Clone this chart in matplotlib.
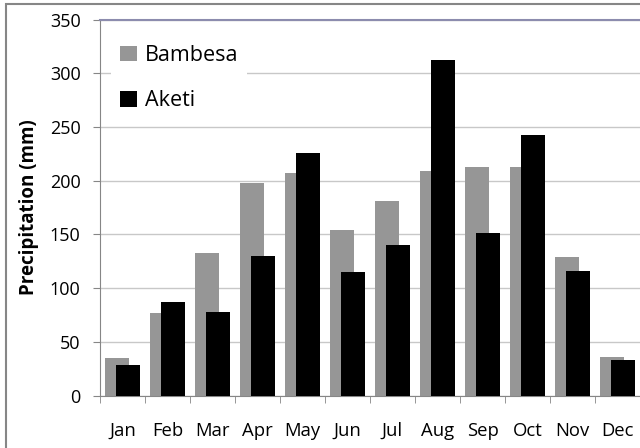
import numpy as np
import matplotlib
matplotlib.use("Agg")
import matplotlib.pyplot as plt
from matplotlib.patches import Rectangle

months = ['Jan', 'Feb', 'Mar', 'Apr', 'May', 'Jun', 'Jul', 'Aug', 'Sep', 'Oct', 'Nov', 'Dec']
bambesa = [35, 77, 133, 198, 207, 154, 181, 209, 213, 213, 129, 36]
aketi = [29, 87, 78, 130, 226, 115, 140, 312, 151, 243, 116, 33]

plt.rcParams['font.family'] = ['Open Sans', 'DejaVu Sans']

fig = plt.figure(figsize=(6.4, 4.48), dpi=100)
ax = fig.add_axes([100 / 640, 52.3 / 448, 540 / 640, 376.2 / 448])

x = np.arange(len(months))
w = 0.533
off = 0.122
ax.bar(x - off, bambesa, w, color='#969696', label='Bambesa', zorder=2)
ax.bar(x + off, aketi, w, color='#000000', label='Aketi', zorder=3)

ax.set_xlim(-0.5, 11.5)
ax.set_ylim(0, 350)
ax.set_yticks(np.arange(0, 351, 50))
ax.yaxis.grid(True, color='#c8c8c8', linewidth=1.0)
ax.set_axisbelow(True)

ax.set_xticks(x)
ax.set_xticklabels(months)
ax.set_xticks(np.arange(-0.5, 12, 1), minor=True)
ax.tick_params(axis='x', which='major', length=0, pad=19, labelsize=13.3)
ax.tick_params(axis='x', which='minor', length=5, color='#868686')
ax.tick_params(axis='y', length=5, color='#868686', pad=9, labelsize=13)

for s in ['left', 'bottom']:
    ax.spines[s].set_color('#868686')
ax.spines['top'].set_color('#8c8cae')
ax.spines['top'].set_linewidth(1.5)
ax.spines['right'].set_visible(False)

ax.set_ylabel('Precipitation (mm)', fontsize=13.5, fontweight='bold')
ax.yaxis.set_label_coords(-0.113, 0.5)

leg = ax.legend(loc='upper left', bbox_to_anchor=(0.021, 0.955), fontsize=15.5,
                frameon=True, fancybox=False, edgecolor='none', framealpha=1,
                handlelength=0.8, handleheight=0.75, handletextpad=0.35,
                labelspacing=1.13, borderaxespad=0.0)

fig.patches.append(Rectangle((6 / 640, -0.05), 1.1, (448 - 4) / 448 + 0.05,
                             transform=fig.transFigure, fill=False,
                             edgecolor='#868686', linewidth=1.5))

fig.savefig('out.png', dpi=100)
